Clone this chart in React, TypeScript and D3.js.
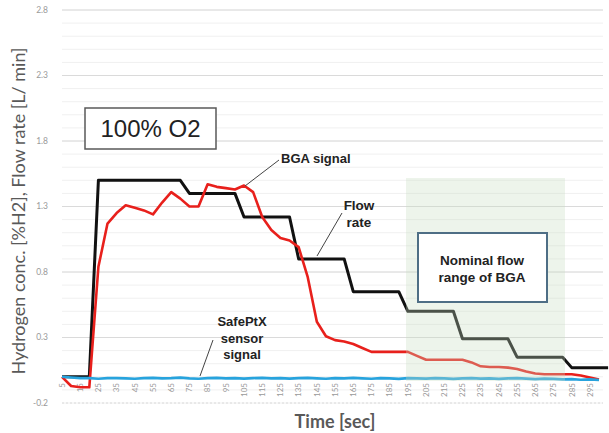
import React from 'react'
import * as d3 from 'd3'

// time stamps in seconds (one sample every 5 s)
const seconds = [
  5, 10, 15, 20, 25, 30, 35, 40, 45, 50, 55, 60, 65, 70, 75, 80, 85, 90, 95, 100,
  105, 110, 115, 120, 125, 130, 135, 140, 145, 150, 155, 160, 165, 170, 175, 180, 185, 190, 195, 200,
  205, 210, 215, 220, 225, 230, 235, 240, 245, 250, 255, 260, 265, 270, 275, 280, 285, 290, 295, 300,
  305,
]

const tickLabels = [
  5, 15, 25, 35, 45, 55, 65, 75, 85, 95, 105, 115, 125, 135, 145,
  155, 165, 175, 185, 195, 205, 215, 225, 235, 245, 255, 265, 275, 285, 295,
]

const yTicks = [-0.2, 0.3, 0.8, 1.3, 1.8, 2.3, 2.8]

// flow rate [L/min]
const flowRate = [
  0, 0, 0, 0, 1.5, 1.5, 1.5, 1.5, 1.5, 1.5, 1.5, 1.5, 1.5, 1.5, 1.4, 1.4, 1.4, 1.4, 1.4, 1.4,
  1.22, 1.22, 1.22, 1.22, 1.22, 1.22, 0.9, 0.9, 0.9, 0.9, 0.9, 0.9, 0.65, 0.65, 0.65, 0.65, 0.65, 0.65, 0.5, 0.5,
  0.5, 0.5, 0.5, 0.5, 0.29, 0.29, 0.29, 0.29, 0.29, 0.29, 0.15, 0.15, 0.15, 0.15, 0.15, 0.15, 0.07, 0.07, 0.07, 0.07,
  0.07,
]

// BGA signal [%H2]
const bgaSignal = [
  0, -0.07, -0.08, -0.08, 0.84, 1.17, 1.25, 1.31, 1.29, 1.27, 1.24, 1.33, 1.41, 1.36, 1.3, 1.3, 1.47, 1.45, 1.44, 1.43,
  1.46, 1.41, 1.22, 1.12, 1.06, 1.04, 0.99, 0.76, 0.42, 0.31, 0.28, 0.27, 0.25, 0.22, 0.19, 0.19, 0.19, 0.19, 0.19, 0.16,
  0.13, 0.13, 0.13, 0.13, 0.13, 0.11, 0.08, 0.075, 0.075, 0.07, 0.06, 0.04, 0.025, 0.02, 0.02, 0.02, 0.02, 0.01, -0.005, -0.02,
]

// SafePtX sensor signal [%H2]
const safePtx = [
  0, -0.005, -0.01, -0.01, -0.015, -0.01, -0.01, -0.012, -0.015, -0.01, -0.008, -0.012, -0.01, -0.006, -0.012, -0.015, -0.01, -0.008, -0.012, -0.01,
  -0.014, -0.01, -0.008, -0.012, -0.01, -0.014, -0.01, -0.008, -0.012, -0.015, -0.01, -0.012, -0.008, -0.012, -0.015, -0.01, -0.012, -0.016, -0.01, -0.012,
  -0.014, -0.01, -0.012, -0.016, -0.012, -0.01, -0.014, -0.012, -0.016, -0.012, -0.01, -0.014, -0.018, -0.014, -0.016, -0.02, -0.018, -0.022, -0.02, -0.024,
]

const W = 609
const H = 433

const x = d3.scaleLinear().domain([5, 300]).range([62, 599])
const y = d3.scaleLinear().domain([-0.2, 2.8]).range([403, 10])

const plotLeft = 62
const plotRight = 603

const line = d3
  .line<[number, number]>()
  .x(d => x(d[0]))
  .y(d => y(d[1]))

const toPts = (vals: number[]) => vals.map((v, i) => [seconds[i], v] as [number, number])

const minorTicks = d3.range(-0.2, 2.81, 0.1).map(v => Math.round(v * 10) / 10)

const annoFont = '"Liberation Sans", Arial, sans-serif'
const axisFont = 'Lato, "Open Sans", sans-serif'

export default function App() {
  return (
    <svg width={W} height={H} style={{ position: 'absolute', left: 0, top: 0, background: '#fff' }}>
      <rect x={0} y={0} width={W} height={H} fill="#fff" />
      {/* minor gridlines */}
      {minorTicks.map(v => (
        <line key={'m' + v} x1={plotLeft} x2={plotRight} y1={y(v)} y2={y(v)} stroke="#f0f0f0" strokeWidth={1} />
      ))}
      {/* major gridlines */}
      {yTicks.map(v => (
        <line
          key={'g' + v}
          x1={plotLeft}
          x2={plotRight}
          y1={y(v)}
          y2={y(v)}
          stroke="#dadada"
          strokeWidth={1}
          strokeDasharray={v === -0.2 ? '2,2' : undefined}
        />
      ))}
      {/* y tick labels */}
      {yTicks.map(v => (
        <text
          key={'yl' + v}
          x={48}
          y={y(v)}
          dy="0.35em"
          textAnchor="end"
          fontFamily={axisFont}
          fontSize={8.5}
          fill="#9a9a9a"
        >
          {v.toFixed(1)}
        </text>
      ))}
      {/* x tick labels */}
      {tickLabels.map(t => (
        <text
          key={'xl' + t}
          transform={`translate(${x(t)},383) rotate(-90)`}
          dy="0.35em"
          textAnchor="end"
          fontFamily={axisFont}
          fontSize={8}
          fill="#9a9a9a"
        >
          {t}
        </text>
      ))}

      {/* series */}
      <path d={line(toPts(flowRate)) || ''} fill="none" stroke="#111" strokeWidth={3} strokeLinejoin="round" />
      <path d={line(toPts(bgaSignal)) || ''} fill="none" stroke="#e8201c" strokeWidth={2.6} strokeLinejoin="round" />
      <path d={line(toPts(safePtx)) || ''} fill="none" stroke="#27a3dd" strokeWidth={2.6} strokeLinejoin="round" />

      {/* nominal flow range shading */}
      <rect x={406} y={178} width={159} height={203} fill="#c6dcc0" fillOpacity={0.32} />
      <rect x={418} y={233} width={129} height={69} fill="#fff" stroke="#4e6e85" strokeWidth={2} />
      <text x={482} y={265} textAnchor="middle" fontFamily={annoFont} fontWeight="bold" fontSize={13.5} fill="#222">
        Nominal flow
      </text>
      <text x={482} y={282} textAnchor="middle" fontFamily={annoFont} fontWeight="bold" fontSize={13.5} fill="#222">
        range of BGA
      </text>

      {/* 100% O2 box */}
      <rect x={85} y={108} width={131} height={41} fill="#fff" stroke="#595959" strokeWidth={1.5} />
      <text x={150.5} y={137} textAnchor="middle" fontFamily={annoFont} fontSize={24} fill="#222">
        100% O2
      </text>

      {/* annotations */}
      <line x1={279} y1={160} x2={245} y2={186} stroke="#444" strokeWidth={1} />
      <text x={281} y={163} fontFamily={annoFont} fontWeight="bold" fontSize={13} fill="#222">
        BGA signal
      </text>

      <line x1={342} y1={213} x2={317} y2={256} stroke="#444" strokeWidth={1} />
      <text x={359} y={210} textAnchor="middle" fontFamily={annoFont} fontWeight="bold" fontSize={13.5} fill="#222">
        Flow
      </text>
      <text x={359} y={227} textAnchor="middle" fontFamily={annoFont} fontWeight="bold" fontSize={13.5} fill="#222">
        rate
      </text>

      <line x1={213} y1={340} x2={200} y2={376} stroke="#444" strokeWidth={1} />
      {['SafePtX', 'sensor', 'signal'].map((s, i) => (
        <text
          key={s}
          x={242}
          y={326 + i * 16.5}
          textAnchor="middle"
          fontFamily={annoFont}
          fontWeight="bold"
          fontSize={13}
          fill="#222"
        >
          {s}
        </text>
      ))}

      {/* axis titles */}
      <text
        transform="translate(25,211) rotate(-90)"
        textAnchor="middle"
        fontFamily={axisFont}
        fontSize={18}
        fill="#595959"
      >
        Hydrogen conc. [%H2], Flow rate [L/ min]
      </text>
      <text x={335} y={428} textAnchor="middle" fontFamily={axisFont} fontWeight="bold" fontSize={18} fill="#595959">
        Time [sec]
      </text>
    </svg>
  )
}
